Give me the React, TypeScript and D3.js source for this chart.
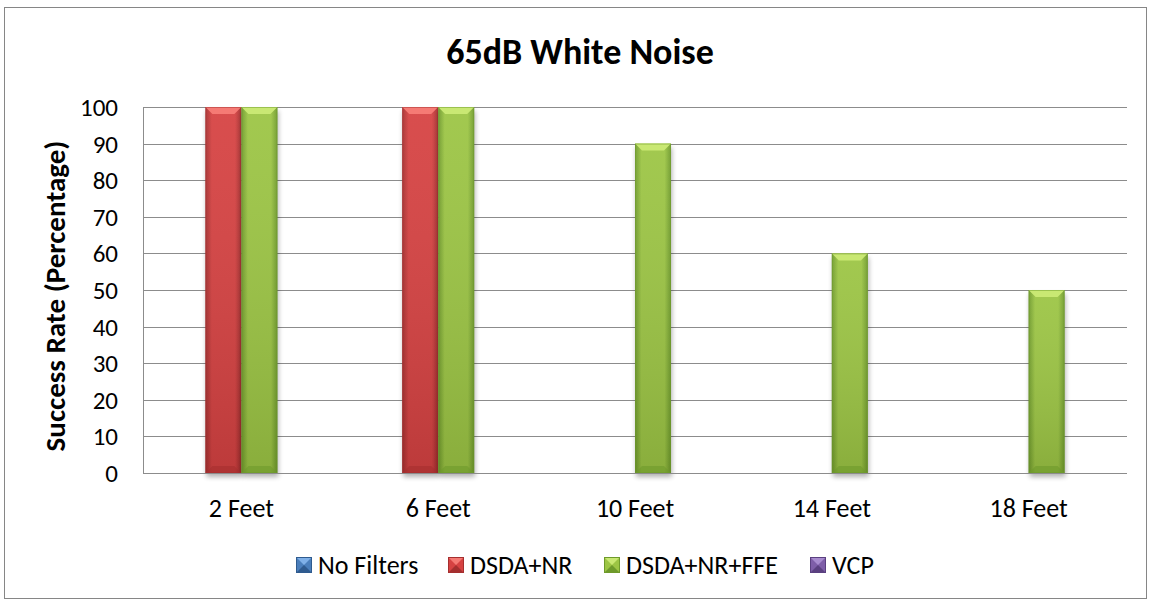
import { useEffect, useRef } from 'react';
import * as d3 from 'd3';

const categories = ['2 Feet', '6 Feet', '10 Feet', '14 Feet', '18 Feet'];
const seriesNames = ['No Filters', 'DSDA+NR', 'DSDA+NR+FFE', 'VCP'];
const noFilters = [0, 0, 0, 0, 0];
const dsdaNr = [100, 100, 0, 0, 0];
const dsdaNrFfe = [100, 100, 90, 60, 50];
const vcp = [0, 0, 0, 0, 0];
const yTicks = [0, 10, 20, 30, 40, 50, 60, 70, 80, 90, 100];

// base, light (top bevel), dark (bottom bevel / edges)
const palette = [
  ['#4a7ebb', '#7fb0e8', '#2f5b8f'],
  ['#d64242', '#f57a74', '#a52f2f'],
  ['#9cc544', '#c9e873', '#6e9a2b'],
  ['#7e5ea8', '#a88ccf', '#5a4080'],
];

const font = 'Carlito, Calibri, Lato, "Open Sans", sans-serif';

export default function App() {
  const svgRef = useRef<SVGSVGElement>(null);
  const width = 1151,
    height = 604;
  const plot = { left: 143, right: 1127, top: 107, bottom: 473 };

  useEffect(() => {
    const svg = d3.select(svgRef.current);
    svg.selectAll('*').remove();

    const values = [noFilters, dsdaNr, dsdaNrFfe, vcp];

    const defs = svg.append('defs');
    palette.forEach((c, i) => {
      const g = defs
        .append('linearGradient')
        .attr('id', `side${i}`)
        .attr('x1', 0)
        .attr('x2', 1)
        .attr('y1', 0)
        .attr('y2', 0);
      g.append('stop').attr('offset', '0%').attr('stop-color', c[2]);
      g.append('stop').attr('offset', '18%').attr('stop-color', c[0]);
      g.append('stop').attr('offset', '82%').attr('stop-color', c[0]);
      g.append('stop').attr('offset', '100%').attr('stop-color', c[2]);
      const v = defs
        .append('linearGradient')
        .attr('id', `vert${i}`)
        .attr('x1', 0)
        .attr('x2', 0)
        .attr('y1', 0)
        .attr('y2', 1);
      v.append('stop').attr('offset', '0%').attr('stop-color', '#fff').attr('stop-opacity', 0.06);
      v.append('stop').attr('offset', '100%').attr('stop-color', '#000').attr('stop-opacity', 0.12);
    });
    const shadow = defs
      .append('filter')
      .attr('id', 'shadow')
      .attr('x', '-20%')
      .attr('y', '-5%')
      .attr('width', '140%')
      .attr('height', '120%');
    shadow.append('feGaussianBlur').attr('stdDeviation', 2.5);

    // outer frame
    svg
      .append('rect')
      .attr('x', 4.5)
      .attr('y', 7.5)
      .attr('width', 1142)
      .attr('height', 591)
      .attr('fill', '#fff')
      .attr('stroke', '#868686')
      .attr('stroke-width', 1);

    const x0 = d3
      .scaleBand<string>()
      .domain(categories)
      .range([plot.left, plot.right])
      .paddingInner(0.268)
      .paddingOuter(0.134);
    const x1 = d3.scaleBand<string>().domain(seriesNames).range([0, x0.bandwidth()]);
    const y = d3.scaleLinear().domain([0, 100]).range([plot.bottom, plot.top]);

    // gridlines
    svg
      .append('g')
      .selectAll('line')
      .data(yTicks.filter((t) => t > 0))
      .join('line')
      .attr('x1', plot.left)
      .attr('x2', plot.right)
      .attr('y1', (d) => Math.round(y(d)) + 0.5)
      .attr('y2', (d) => Math.round(y(d)) + 0.5)
      .attr('stroke', '#8c8c8c')
      .attr('stroke-width', 1);

    // bars
    const bars = svg.append('g');
    seriesNames.forEach((s, si) => {
      values[si].forEach((v, ci) => {
        if (v <= 0) return;
        const bx = (x0(categories[ci]) as number) + (x1(s) as number);
        const bw = x1.bandwidth();
        const top = y(v);
        const bot = y(0);
        const h = bot - top;
        const b = 7;
        const c = palette[si];
        bars
          .append('rect')
          .attr('x', bx + 1)
          .attr('y', top + 4)
          .attr('width', bw)
          .attr('height', h)
          .attr('fill', '#000')
          .attr('opacity', 0.3)
          .attr('filter', 'url(#shadow)');
        bars
          .append('rect')
          .attr('x', bx)
          .attr('y', top)
          .attr('width', bw)
          .attr('height', h)
          .attr('fill', `url(#side${si})`);
        bars
          .append('rect')
          .attr('x', bx)
          .attr('y', top)
          .attr('width', bw)
          .attr('height', h)
          .attr('fill', `url(#vert${si})`);
        bars
          .append('polygon')
          .attr(
            'points',
            `${bx},${top} ${bx + bw},${top} ${bx + bw - b},${top + b} ${bx + b},${top + b}`
          )
          .attr('fill', c[1]);
        bars
          .append('polygon')
          .attr(
            'points',
            `${bx},${bot} ${bx + bw},${bot} ${bx + bw - b},${bot - b} ${bx + b},${bot - b}`
          )
          .attr('fill', c[2])
          .attr('opacity', 0.6);
        bars
          .append('rect')
          .attr('x', bx + 0.5)
          .attr('y', top + 0.5)
          .attr('width', bw - 1)
          .attr('height', h - 1)
          .attr('fill', 'none')
          .attr('stroke', c[2])
          .attr('stroke-opacity', 0.5);
      });
    });

    // axis lines
    svg
      .append('line')
      .attr('x1', plot.left + 0.5)
      .attr('x2', plot.left + 0.5)
      .attr('y1', plot.top)
      .attr('y2', plot.bottom)
      .attr('stroke', '#8c8c8c');
    svg
      .append('line')
      .attr('x1', plot.left)
      .attr('x2', plot.right)
      .attr('y1', plot.bottom + 0.5)
      .attr('y2', plot.bottom + 0.5)
      .attr('stroke', '#8c8c8c');

    // y tick labels
    svg
      .append('g')
      .selectAll('text')
      .data(yTicks)
      .join('text')
      .attr('x', 118)
      .attr('y', (d) => y(d))
      .attr('dy', '0.36em')
      .attr('text-anchor', 'end')
      .attr('font-family', font)
      .attr('font-size', 25)
      .attr('fill', '#000')
      .text((d) => d);

    // x labels
    svg
      .append('g')
      .selectAll('text')
      .data(categories)
      .join('text')
      .attr('x', (d) => (x0(d) as number) + x0.bandwidth() / 2)
      .attr('y', 517)
      .attr('text-anchor', 'middle')
      .attr('font-family', font)
      .attr('font-size', 26)
      .attr('fill', '#000')
      .text((d) => d);

    // title
    svg
      .append('text')
      .attr('x', 580)
      .attr('y', 64)
      .attr('text-anchor', 'middle')
      .attr('font-family', font)
      .attr('font-weight', 'bold')
      .attr('font-size', 36)
      .text('65dB White Noise');

    // y axis title
    svg
      .append('text')
      .attr('transform', `translate(55,${(plot.top + plot.bottom) / 2 + 6}) rotate(-90)`)
      .attr('text-anchor', 'middle')
      .attr('dy', '0.36em')
      .attr('font-family', font)
      .attr('font-weight', 'bold')
      .attr('font-size', 29)
      .text('Success Rate (Percentage)');

    // legend
    const legendX = [296, 448, 604, 810];
    const legend = svg.append('g');
    seriesNames.forEach((s, i) => {
      const lx = legendX[i];
      const ly = 557;
      const c = palette[i];
      const sz = 16;
      legend.append('rect').attr('x', lx).attr('y', ly).attr('width', sz).attr('height', sz).attr('fill', c[0]);
      legend
        .append('polygon')
        .attr('points', `${lx},${ly} ${lx + sz},${ly} ${lx + sz / 2},${ly + sz / 2}`)
        .attr('fill', c[1]);
      legend
        .append('polygon')
        .attr('points', `${lx},${ly + sz} ${lx + sz},${ly + sz} ${lx + sz / 2},${ly + sz / 2}`)
        .attr('fill', c[2]);
      legend
        .append('rect')
        .attr('x', lx + 0.5)
        .attr('y', ly + 0.5)
        .attr('width', sz - 1)
        .attr('height', sz - 1)
        .attr('fill', 'none')
        .attr('stroke', c[2]);
      legend
        .append('text')
        .attr('x', lx + sz + 6)
        .attr('y', ly + sz / 2)
        .attr('dy', '0.36em')
        .attr('font-family', font)
        .attr('font-size', 26)
        .text(s);
    });
  }, []);

  return (
    <svg
      ref={svgRef}
      width={width}
      height={height}
      style={{ position: 'absolute', left: 0, top: 0 }}
    ></svg>
  );
}
